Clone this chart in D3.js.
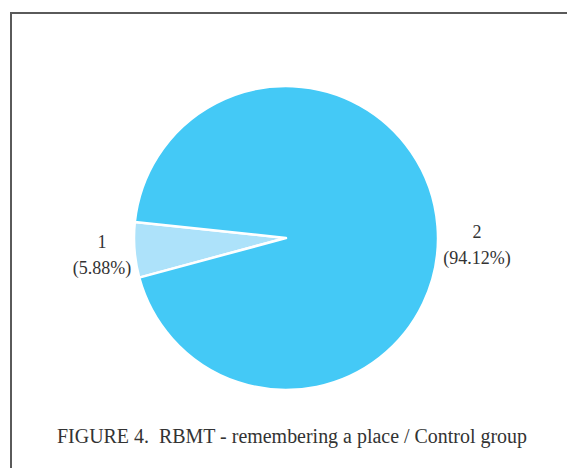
<!DOCTYPE html>
<html>
<head>
<meta charset="utf-8">
<script src="https://cdn.jsdelivr.net/npm/d3@7"></script>
<style>
  body { margin: 0; background: #fff; }
  text { font-family: "Liberation Serif", "DejaVu Serif", serif; fill: #333; }
</style>
</head>
<body>
<div class="grafico"></div>
<script>
var width = 567, height = 468;

// data (1 of 17 vs 16 of 17)
var categories = ["1", "2"];
var counts = [1, 16];
var percents = ["5.88%", "94.12%"];
var colors = ["#ade2fa", "#44c9f6"];

var cx = 286, cy = 238, radius = 152;
var start = 254.9 * Math.PI / 180;

var svg = d3.select(".grafico").append("svg")
  .attr("width", width)
  .attr("height", height);

// frame (only top and left show in the crop)
svg.append("path")
  .attr("d", "M11,480 L11,13 L580,13")
  .attr("fill", "none")
  .attr("stroke", "#5a5a5a")
  .attr("stroke-width", 2);

var pie = d3.pie()
  .sort(null)
  .startAngle(start)
  .endAngle(start + 2 * Math.PI);

var arc = d3.arc().innerRadius(0).outerRadius(radius);

var arcs = pie(counts);

var g = svg.append("g")
  .attr("transform", "translate(" + cx + "," + cy + ")");

g.selectAll("path.slice")
  .data(arcs)
  .enter().append("path")
  .attr("class", "slice")
  .attr("d", arc)
  .attr("fill", (d, i) => colors[i])
  .attr("stroke", "#fff")
  .attr("stroke-width", 2.5)
  .attr("stroke-linejoin", "round");

// labels outside the pie, centred on each slice direction
var labelPos = [
  { x: 102, y: 248 },
  { x: 477, y: 238 }
];

arcs.forEach(function (d, i) {
  var t = svg.append("text")
    .attr("text-anchor", "middle")
    .attr("font-size", 18);
  t.append("tspan")
    .attr("x", labelPos[i].x)
    .attr("y", labelPos[i].y)
    .text(categories[i]);
  t.append("tspan")
    .attr("x", labelPos[i].x)
    .attr("dy", 26)
    .text("(" + percents[i] + ")");
});

svg.append("text")
  .attr("x", 292)
  .attr("y", 443)
  .attr("text-anchor", "middle")
  .attr("font-size", 20)
  .attr("textLength", 470)
  .attr("lengthAdjust", "spacingAndGlyphs")
  .style("white-space", "pre")
  .text("FIGURE 4.  RBMT - remembering a place / Control group");
</script>
</body>
</html>
